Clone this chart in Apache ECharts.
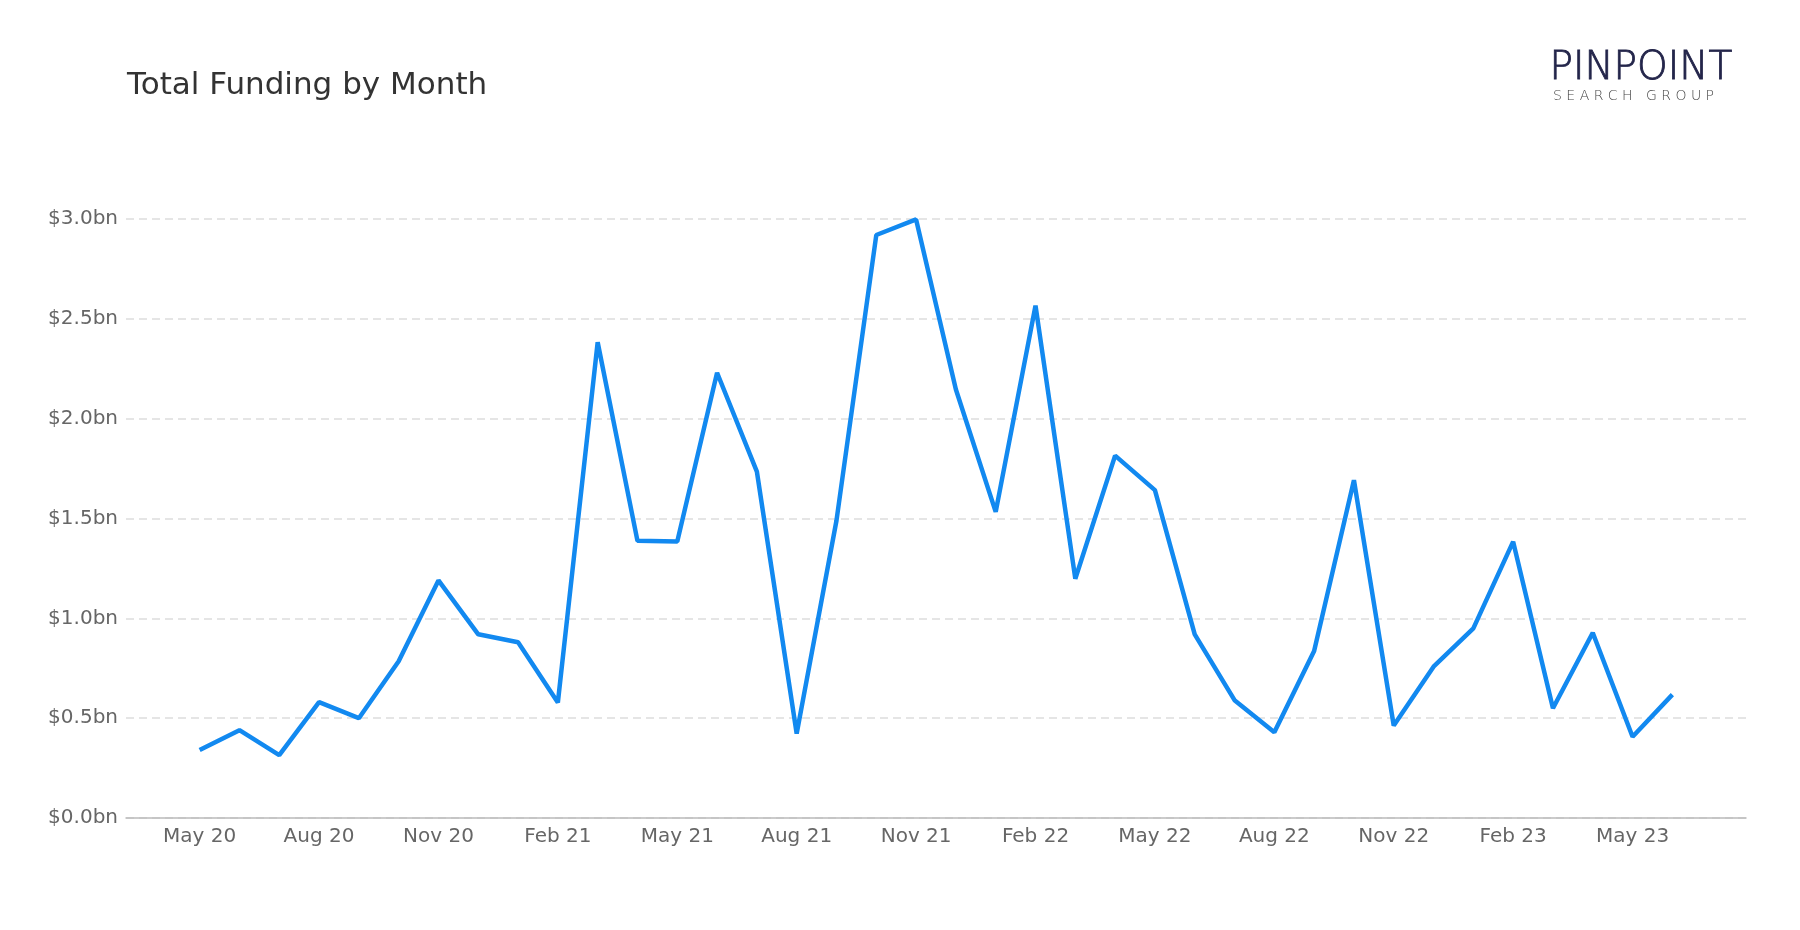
<!doctype html>
<html>
<head>
	<meta charset="utf-8">
	<title>Total Funding by Month</title>
	<script src="https://cdn.jsdelivr.net/npm/echarts@6/dist/echarts.min.js"></script>
	<style>
		html, body { margin: 0; padding: 0; background: #fff; }
		#main { width: 1800px; height: 930px; }
	</style>
</head>
<body>
	<div id="main"></div>
	<script>
		// month labels, May 20 .. Jun 23
		var months = ['May 20', 'Jun 20', 'Jul 20', 'Aug 20', 'Sep 20', 'Oct 20', 'Nov 20', 'Dec 20',
			'Jan 21', 'Feb 21', 'Mar 21', 'Apr 21', 'May 21', 'Jun 21', 'Jul 21', 'Aug 21', 'Sep 21', 'Oct 21',
			'Nov 21', 'Dec 21', 'Jan 22', 'Feb 22', 'Mar 22', 'Apr 22', 'May 22', 'Jun 22', 'Jul 22', 'Aug 22',
			'Sep 22', 'Oct 22', 'Nov 22', 'Dec 22', 'Jan 23', 'Feb 23', 'Mar 23', 'Apr 23', 'May 23', 'Jun 23'];
		// total funding, $bn
		var funding = [0.34, 0.44, 0.315, 0.58, 0.50, 0.785, 1.19, 0.92,
			0.88, 0.578, 2.383, 1.388, 1.385, 2.23, 1.735, 0.423, 1.49, 2.92,
			2.998, 2.146, 1.533, 2.566, 1.198, 1.815, 1.642, 0.92, 0.59, 0.43,
			0.836, 1.692, 0.463, 0.758, 0.95, 1.384, 0.55, 0.928, 0.407, 0.618];
		// which months get an x label
		var labelTicks = [0, 3, 6, 9, 12, 15, 18, 21, 24, 27, 30, 33, 36];

		var chart = echarts.init(document.getElementById('main'));
		var font = 'DejaVu Sans';
		var option = {
			backgroundColor: '#fff',
			animation: false,
			title: {
				text: 'Total Funding by Month',
				left: 122,
				top: 65,
				textStyle: { fontFamily: font, fontSize: 31, fontWeight: 'normal', color: '#333' }
			},
			graphic: [
				{
					type: 'text', left: 1549, top: 49,
					style: { text: 'PINPOINT', fontFamily: font, fontSize: 39, fontWeight: 200, fill: '#23254a', stroke: '#23254a', lineWidth: 0.8 }
				},
				{
					type: 'text', left: 1553, top: 89,
					style: { text: 'S E A R C H   G R O U P', fontFamily: font, fontSize: 14, fontWeight: 200, fill: '#444' }
				}
			],
			grid: { left: 126, right: 54, top: 219, bottom: 112 },
			xAxis: {
				type: 'value',
				min: -1.85,
				max: 38.85,
				axisLine: { lineStyle: { color: '#bbb', width: 1.5 } },
				axisTick: { show: false },
				splitLine: { show: false },
				axisLabel: {
					customValues: labelTicks,
					margin: 9,
					fontFamily: font, fontSize: 20, color: '#666',
					formatter: function (v) { return months[Math.round(v)]; }
				}
			},
			yAxis: {
				type: 'value',
				min: 0,
				max: 3,
				interval: 0.5,
				axisLine: { show: false },
				axisTick: { show: false },
				splitLine: { lineStyle: { color: '#ddd', width: 1.5, type: [8, 5] } },
				axisLabel: {
					margin: 8,
					padding: [8, 0, 0, 0],
					fontFamily: font, fontSize: 20, color: '#666',
					formatter: function (v) { return '$' + v.toFixed(1) + 'bn'; }
				}
			},
			series: [{
				type: 'line',
				data: funding.map(function (v, i) { return [i, v]; }),
				symbol: 'none',
				lineStyle: { color: '#1289f0', width: 4.5 }
			}]
		};
		chart.setOption(option);
	</script>
</body>
</html>
